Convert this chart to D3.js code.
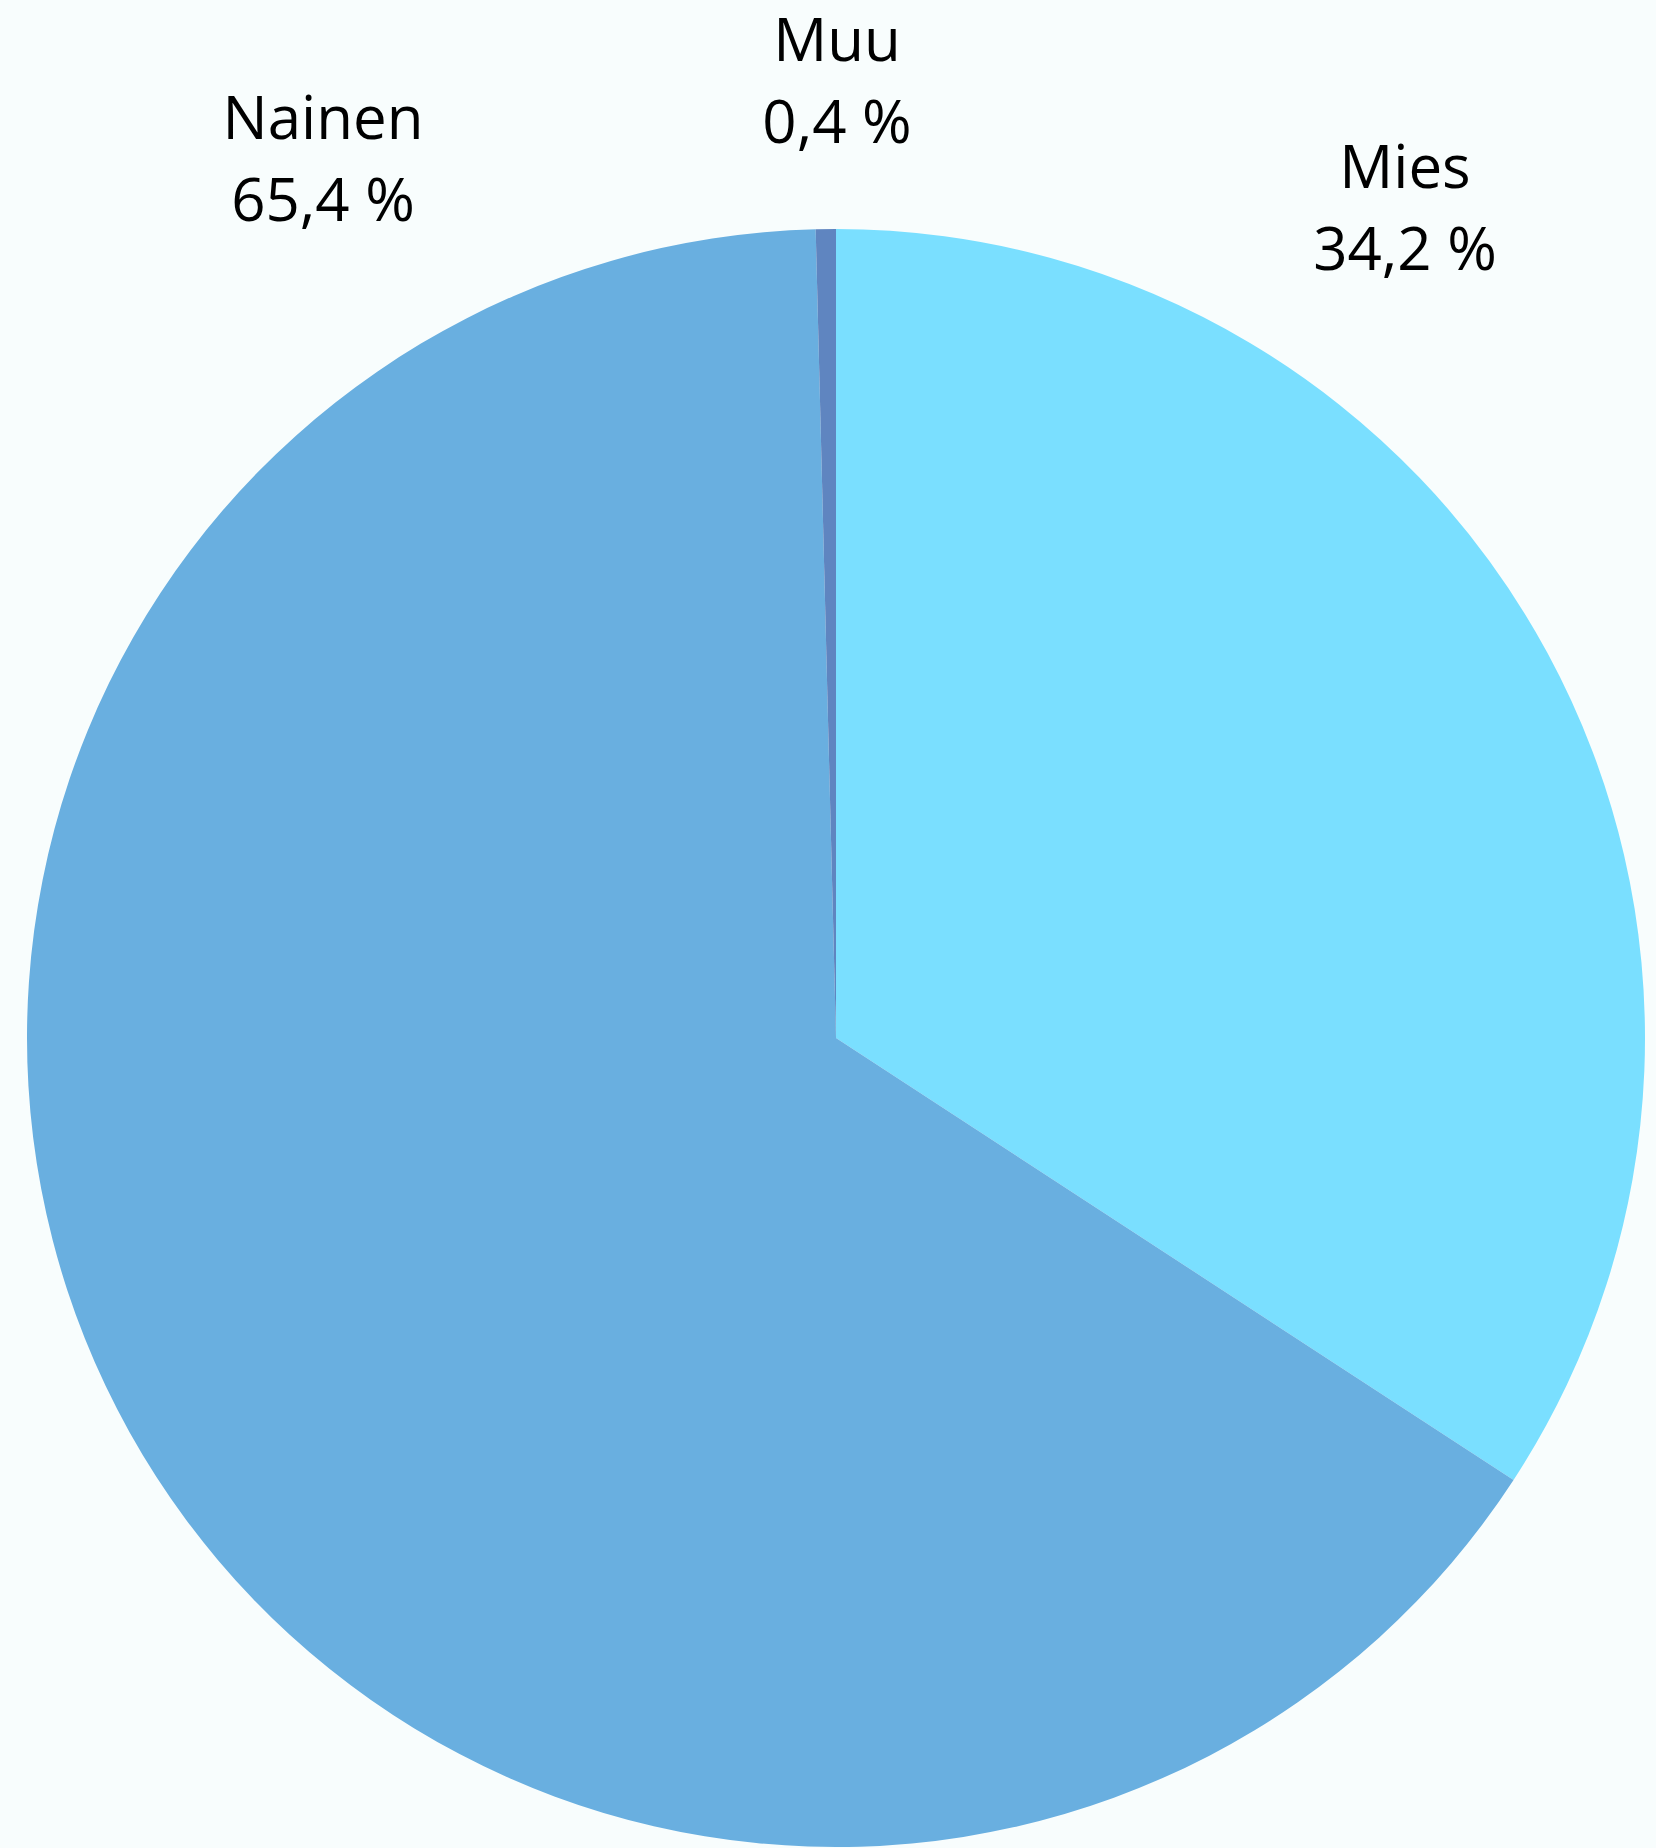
<!DOCTYPE html>
<html>
<head>
<meta charset="utf-8">
<script src="https://cdn.jsdelivr.net/npm/d3@7"></script>
<style>
  html, body { margin: 0; padding: 0; background: #f8fdfd; }
  svg { display: block; }
  text { font-family: "Open Sans", "Noto Sans", sans-serif; fill: #000; }
</style>
</head>
<body>
<div id="chart"></div>
<script>
// data
var categories = ['Mies', 'Nainen', 'Muu'];
var values = [34.2, 65.4, 0.4];
var labels = ['34,2 %', '65,4 %', '0,4 %'];

var colors = ['#7adfff', '#69afe0', '#5f85c0'];
// label anchor offsets from the pie centre (as in the original layout)
var labelOffsets = [[569, -850], [-513, -899], [1, -977]];

var width = 1656, height = 1848;
var cx = 836, cy = 1038, radius = 809;
var lineGap = 82;

var svg = d3.select('#chart').append('svg')
	.attr('width', width)
	.attr('height', height);

svg.append('rect')
	.attr('width', width)
	.attr('height', height)
	.attr('fill', '#f8fdfd');

var g = svg.append('g')
	.attr('transform', 'translate(' + cx + ',' + cy + ')');

var pie = d3.pie()
	.sort(null)
	.value(function(d) { return d; });

var arc = d3.arc()
	.innerRadius(0)
	.outerRadius(radius);

var arcs = pie(values);

g.selectAll('.slice')
	.data(arcs)
	.enter().append('path')
	.attr('class', 'slice')
	.attr('d', arc)
	.attr('fill', function(d, i) { return colors[i]; });

var lab = g.selectAll('.label')
	.data(arcs)
	.enter().append('g')
	.attr('class', 'label')
	.attr('transform', function(d, i) {
		return 'translate(' + labelOffsets[i][0] + ',' + labelOffsets[i][1] + ')';
	});

lab.append('text')
	.attr('text-anchor', 'middle')
	.attr('font-size', 60)
	.text(function(d, i) { return categories[i]; });

lab.append('text')
	.attr('text-anchor', 'middle')
	.attr('font-size', 60)
	.attr('y', lineGap)
	.text(function(d, i) { return labels[i]; });
</script>
</body>
</html>
